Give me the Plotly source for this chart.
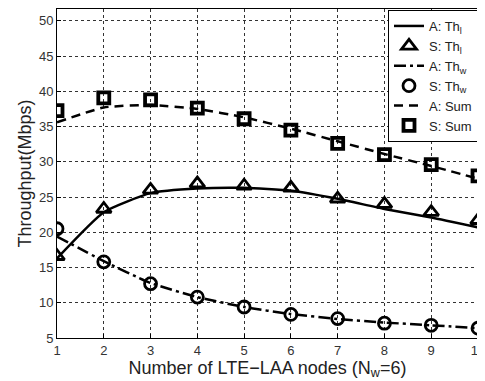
import plotly.graph_objects as go

nodes = [1, 2, 3, 4, 5, 6, 7, 8, 9, 10]
a_thl = [16.3, 22.85, 25.55, 26.2, 26.3, 25.9, 24.75, 23.3, 22.1, 20.7]
s_thl = [16.6, 23.3, 26.0, 26.9, 26.6, 26.3, 24.75, 24.0, 22.85, 21.7]
a_thw = [19.4, 15.9, 12.8, 10.8, 9.4, 8.4, 7.7, 7.2, 6.8, 6.4]
s_thw = [20.5, 15.8, 12.7, 10.8, 9.4, 8.35, 7.75, 7.1, 6.8, 6.4]
a_sum = [35.6, 37.7, 38.05, 37.5, 36.3, 34.7, 32.9, 31.1, 29.4, 27.6]
s_sum = [37.25, 39.05, 38.77, 37.6, 36.1, 34.5, 32.6, 31.0, 29.6, 28.0]
x_ticks = list(range(1, 11))
y_ticks = list(range(5, 55, 5))

names = ["A: Th<sub>l</sub>", "S: Th<sub>l</sub>", "A: Th<sub>w</sub>",
         "S: Th<sub>w</sub>", "A: Sum", "S: Sum"]

fig = go.Figure()
fig.add_trace(go.Scatter(x=nodes, y=a_thl, mode="lines", name=names[0],
                         line=dict(color="black", width=2.5, shape="spline", smoothing=0.5)))
fig.add_trace(go.Scatter(x=nodes, y=s_thl, mode="markers", name=names[1],
                         marker=dict(symbol="triangle-up-open", size=13, color="black",
                                     line=dict(width=2.8, color="black"))))
fig.add_trace(go.Scatter(x=nodes, y=a_thw, mode="lines", name=names[2],
                         line=dict(color="black", width=2.5, shape="spline", smoothing=0.5,
                                   dash="12px,4px,3px,4px")))
fig.add_trace(go.Scatter(x=nodes, y=s_thw, mode="markers", name=names[3],
                         marker=dict(symbol="circle-open", size=12, color="black",
                                     line=dict(width=2.8, color="black"))))
fig.add_trace(go.Scatter(x=nodes, y=a_sum, mode="lines", name=names[4],
                         line=dict(color="black", width=2.5, shape="spline", smoothing=0.5,
                                   dash="9px,6px")))
fig.add_trace(go.Scatter(x=nodes, y=s_sum, mode="markers", name=names[5],
                         marker=dict(symbol="square-open", size=11, color="black",
                                     line=dict(width=3.8, color="black"))))

axis_common = dict(
    showline=True, linecolor="black", linewidth=1, mirror=True,
    ticks="inside", ticklen=4, tickcolor="black",
    showgrid=True, gridcolor="#333333", gridwidth=1, griddash="dot",
    zeroline=False, ticklabeloverflow="allow",
    tickfont=dict(family="Liberation Sans, Arial", size=13, color="#333333"),
)

fig.update_layout(
    width=477, height=373,
    margin=dict(l=49, r=2, t=0, b=43),
    paper_bgcolor="white", plot_bgcolor="white",
    font=dict(family="Liberation Sans, Arial", color="#222222"),
    xaxis=dict(range=[1, 10], tickvals=x_ticks, **axis_common,
               title=dict(text="Number of LTE\u2212LAA nodes (N<sub>w</sub>=6)",
                          font=dict(size=18, color="#222222"), standoff=0)),
    yaxis=dict(range=[5, 51.67], tickvals=y_ticks, **axis_common,
               title=dict(text="Throughput(Mbps)", font=dict(size=18, color="#222222"), standoff=2)),
    legend=dict(x=1, y=0.997, xanchor="right", yanchor="top",
                bgcolor="white", bordercolor="black", borderwidth=1,
                font=dict(size=13, color="#222222"), tracegroupgap=0,
                itemwidth=30),
    showlegend=True,
)

fig.write_html("out.html")
